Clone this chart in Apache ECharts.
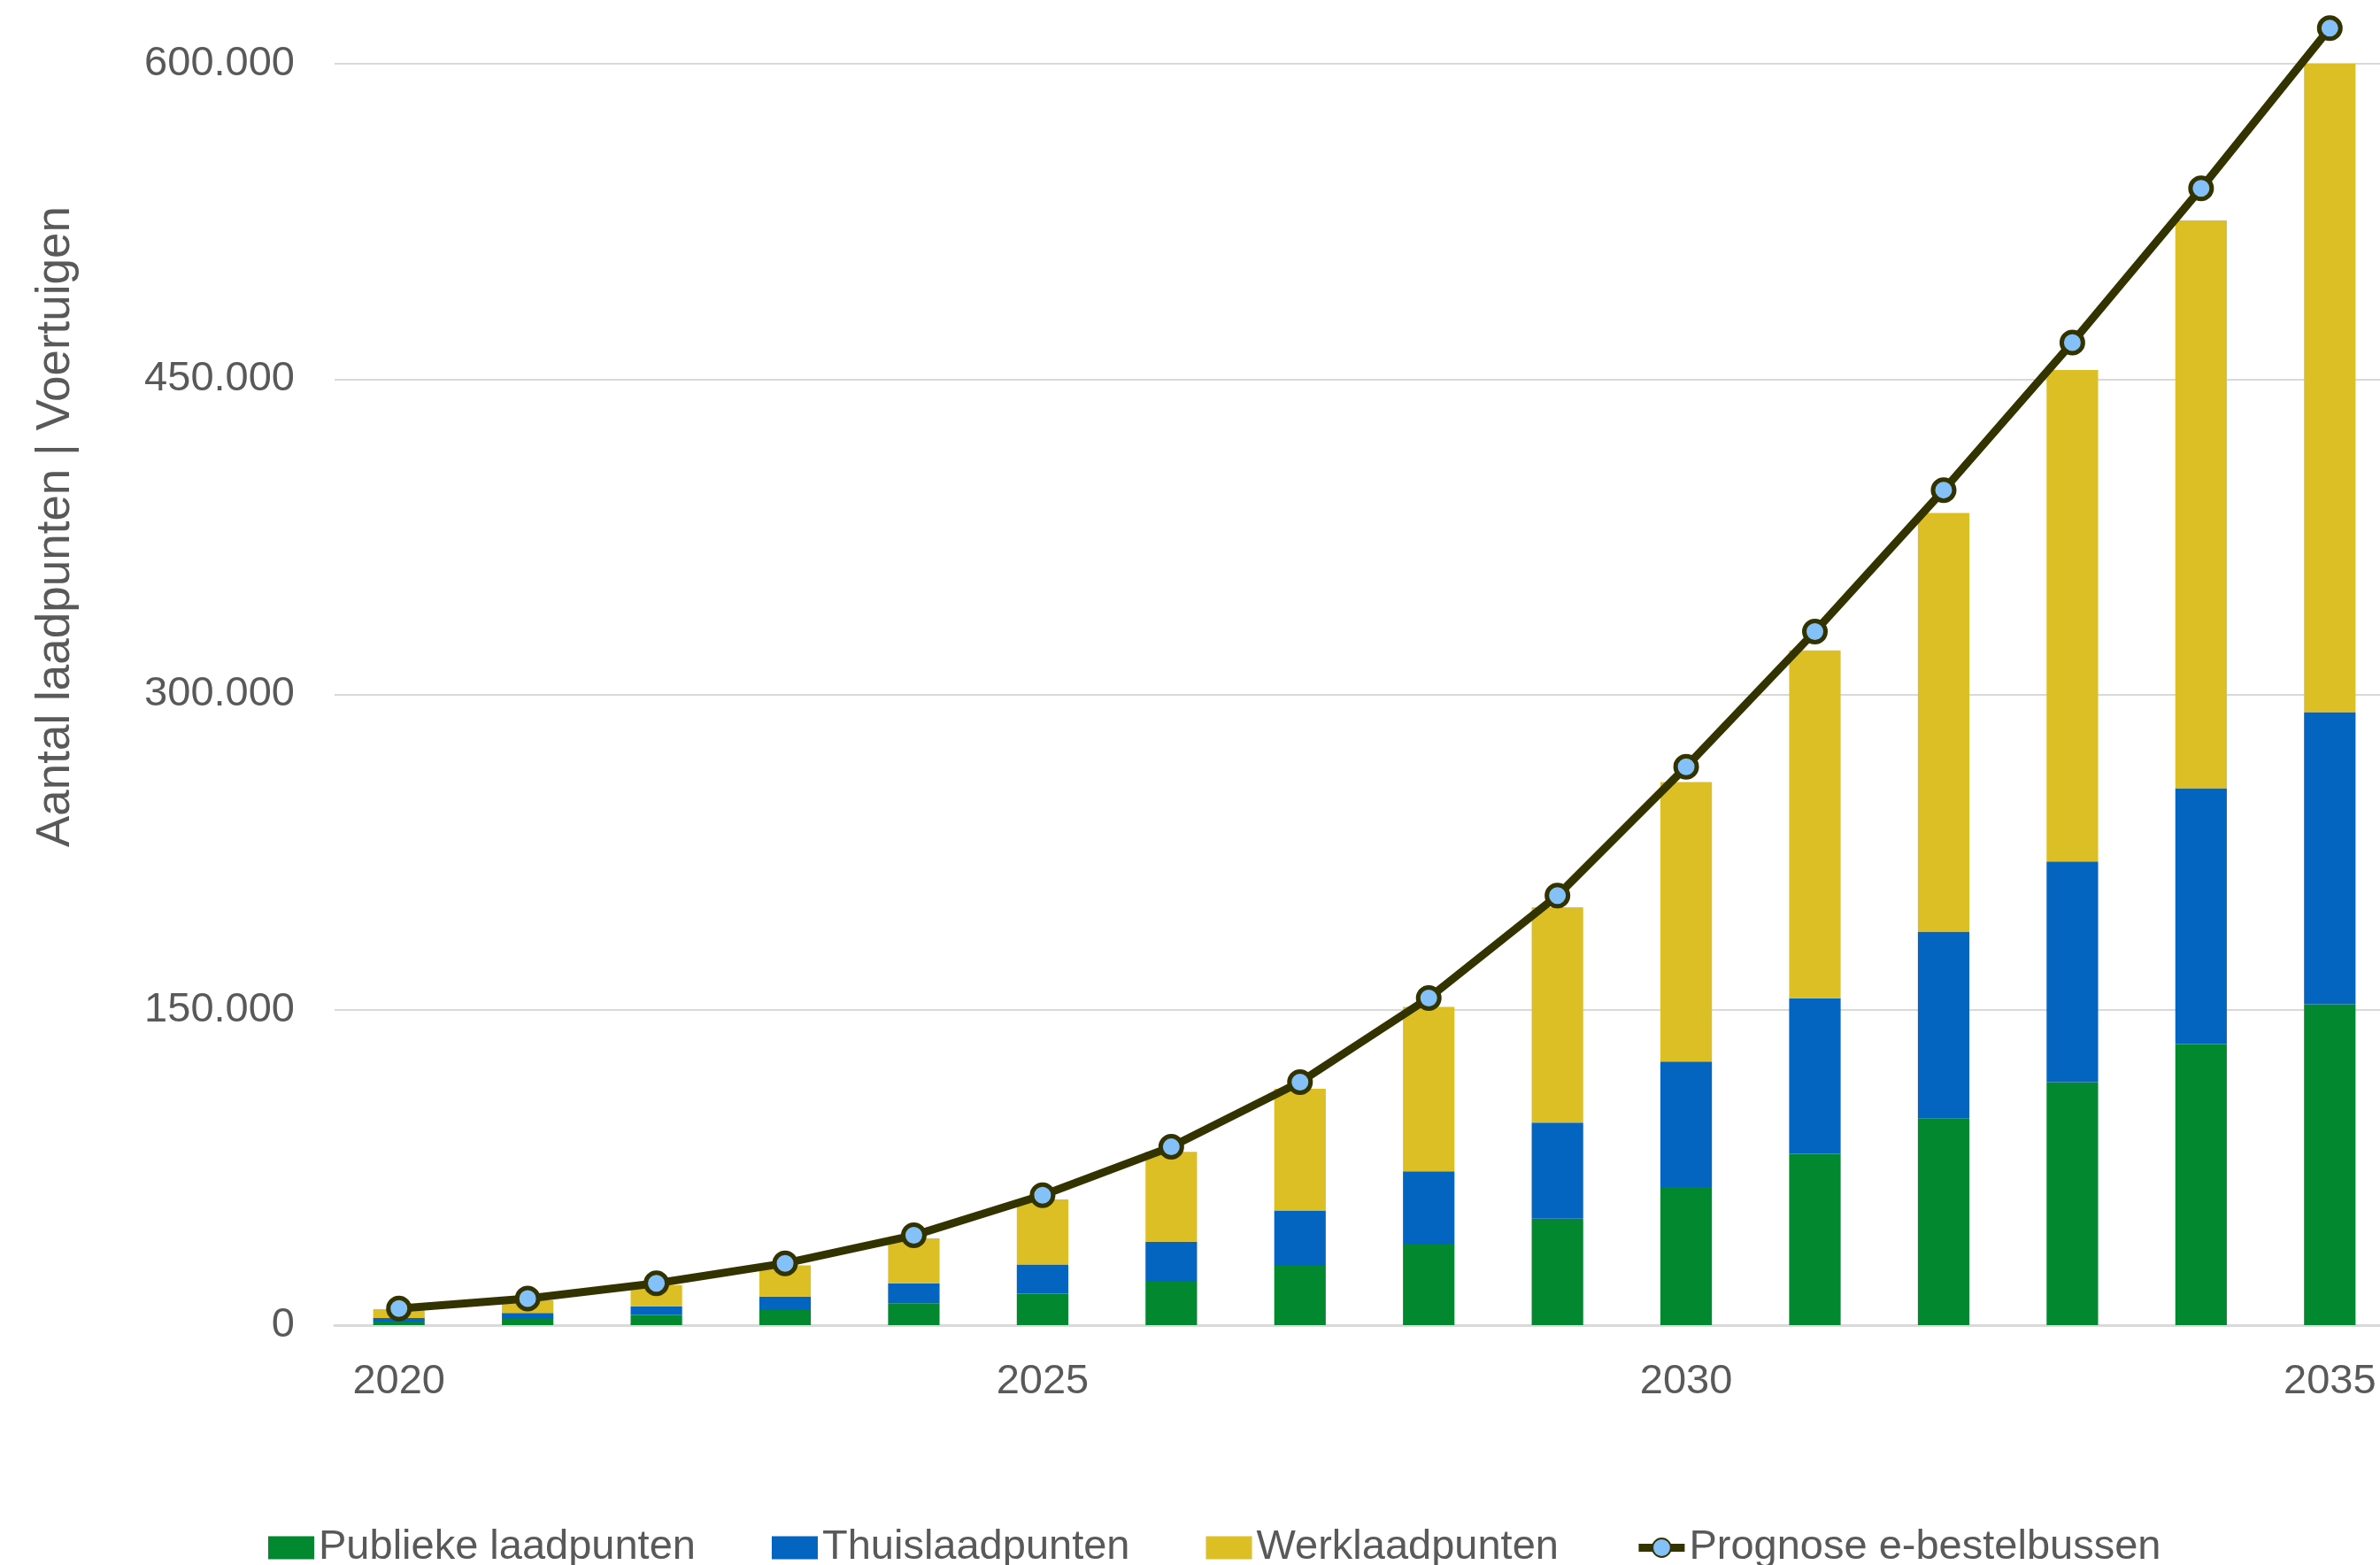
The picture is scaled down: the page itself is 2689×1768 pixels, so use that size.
<!DOCTYPE html>
<html>
<head>
<meta charset="utf-8">
<script src="https://cdn.jsdelivr.net/npm/echarts@6/dist/echarts.min.js"></script>
<style>
html,body{margin:0;padding:0;background:#fff;overflow:hidden;}
#chart{width:2705px;height:1768px;}
</style>
</head>
<body>
<div id="chart"></div>
<script>
var years = ['2020','2021','2022','2023','2024','2025','2026','2027','2028','2029','2030','2031','2032','2033','2034','2035'];
var publiek = [1700, 2950, 4800, 7200, 10400, 15000, 20600, 28200, 38300, 50600, 65700, 81500, 98200, 115600, 133700, 152600];
var thuis = [1700, 2850, 4200, 6400, 9500, 13800, 19100, 26300, 34900, 45700, 59700, 74000, 89000, 104900, 121700, 139000];
var werk = [4200, 6100, 10100, 14800, 21400, 31000, 42700, 57900, 78200, 102400, 132900, 165500, 199100, 233800, 270100, 308400];
var prognose = [7900, 12600, 19900, 29400, 42700, 61800, 84800, 115600, 155600, 204300, 265600, 329900, 397200, 467400, 540700, 616900];
var yTicks = [0, 150000, 300000, 450000, 600000];

var FONT = '"Liberation Sans", Arial, sans-serif';
var GREY = '#595959';

function fmt(v){
  return String(v).replace(/\B(?=(\d{3})+(?!\d))/g, '.');
}

var chart = echarts.init(document.getElementById('chart'), null, {renderer:'canvas'});
chart.setOption({
  animation:false,
  backgroundColor:'#ffffff',
  textStyle:{fontFamily:FONT},
  grid:{left:378, right:0, top:72, bottom:271, containLabel:false},
  legend:{
    left:298, top:1720,
    itemWidth:52, itemHeight:26, itemGap:86,
    textStyle:{fontSize:47, color:GREY, fontFamily:FONT},
    data:[
      {name:'Publieke laadpunten', icon:'rect'},
      {name:'Thuislaadpunten', icon:'rect'},
      {name:'Werklaadpunten', icon:'rect'},
      {name:'Prognose e-bestelbussen', lineStyle:{width:9}}
    ]
  },
  graphic:[{
    type:'text', x:63, y:595, rotation:Math.PI/2,
    style:{text:'Aantal laadpunten | Voertuigen', fontSize:53, fontFamily:FONT, fill:GREY, align:'center', verticalAlign:'middle'}
  }],
  xAxis:{
    type:'category', data:years, boundaryGap:true,
    axisLine:{lineStyle:{color:'#d9d9d9', width:3}},
    axisTick:{show:false},
    axisLabel:{interval:4, fontSize:47, color:GREY, margin:41, fontFamily:FONT}
  },
  yAxis:{
    type:'value', min:yTicks[0], max:yTicks[yTicks.length-1], interval:yTicks[1]-yTicks[0],
    axisLine:{show:false}, axisTick:{show:false},
    splitLine:{lineStyle:{color:'#d9d9d9', width:2}},
    axisLabel:{fontSize:47, color:GREY, margin:45, fontFamily:FONT, formatter:function(v){return fmt(v);}}
  },
  series:[
    {name:'Publieke laadpunten', type:'bar', stack:'lp', data:publiek, barWidth:'40%', itemStyle:{color:'#02882F'}},
    {name:'Thuislaadpunten', type:'bar', stack:'lp', data:thuis, barWidth:'40%', itemStyle:{color:'#0465C0'}},
    {name:'Werklaadpunten', type:'bar', stack:'lp', data:werk, barWidth:'40%', itemStyle:{color:'#DCBE25'}},
    {name:'Prognose e-bestelbussen', type:'line', data:prognose, z:5, clip:false,
     lineStyle:{color:'#333300', width:9},
     symbol:'circle', symbolSize:24,
     itemStyle:{color:'#85C1F9', borderColor:'#333300', borderWidth:5}}
  ]
});
</script>
</body>
</html>
